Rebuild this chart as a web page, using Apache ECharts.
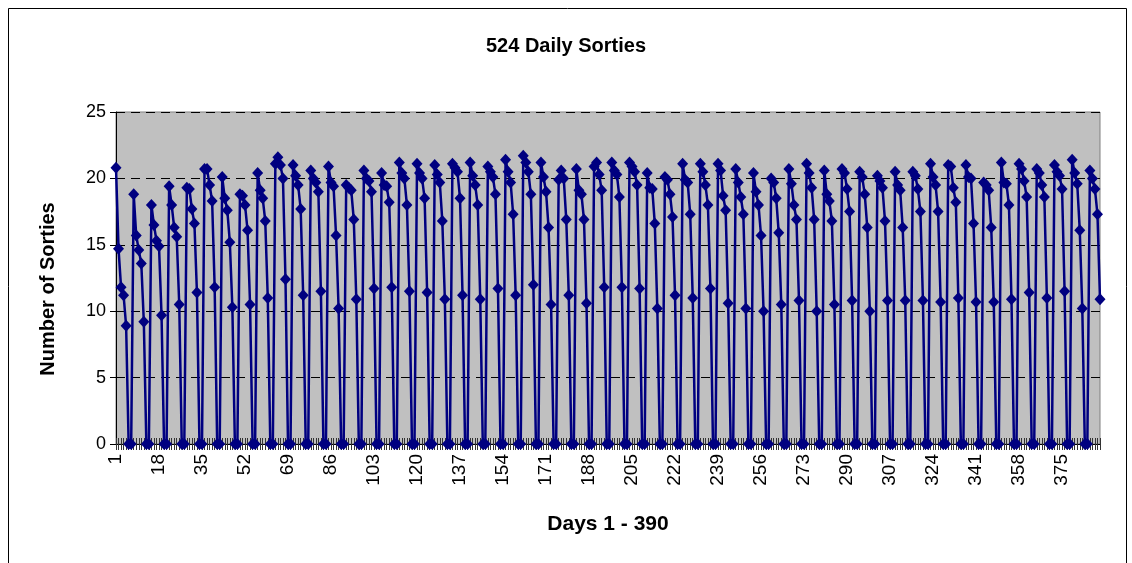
<!DOCTYPE html>
<html>
<head>
<meta charset="utf-8">
<script src="https://cdn.jsdelivr.net/npm/echarts@6/dist/echarts.min.js"></script>
<style>
html,body{margin:0;padding:0;background:#fff;}
#chart{width:1132px;height:563px;}
</style>
</head>
<body>
<div id="chart"></div>
<script>
var titleText = "524 Daily Sorties";
var xAxisTitle = "Days 1 - 390";
var yAxisTitle = "Number of Sorties";
var yTicks = [0, 5, 10, 15, 20, 25];

// Number of sorties per day, days 1 - 390 (7 days per row)
var sorties = [
20.8,14.7,11.8,11.2,8.9,0,0,
18.8,15.7,14.6,13.6,9.2,0,0,
18.0,16.5,15.3,14.9,9.7,0,0,
19.4,18.0,16.3,15.6,10.5,0,0,
19.3,19.2,17.7,16.6,11.4,0,0,
20.7,20.7,19.5,18.3,11.8,0,0,
20.1,18.5,17.6,15.2,10.3,0,0,
18.8,18.7,18.0,16.1,10.5,0,0,
20.4,19.1,18.5,16.8,11.0,0,0,
21.1,21.6,21.0,20.0,12.4,0,0,
21.0,20.2,19.5,17.7,11.2,0,0,
20.6,20.0,19.7,19.0,11.5,0,0,
20.9,19.7,19.4,15.7,10.2,0,0,
19.5,19.3,19.1,16.9,10.9,0,0,
20.6,20.0,19.8,19.0,11.7,0,0,
20.4,19.5,19.4,18.2,11.8,0,0,
21.2,20.4,20.0,18.0,11.5,0,0,
21.1,20.4,20.0,18.5,11.4,0,0,
21.0,20.3,19.7,16.8,10.9,0,0,
21.1,20.8,20.5,18.5,11.2,0,0,
21.2,20.2,19.5,18.0,10.9,0,0,
20.9,20.5,20.1,18.8,11.7,0,0,
21.4,20.5,19.7,17.3,11.2,0,0,
21.7,21.2,20.5,18.8,12.0,0,0,
21.2,20.1,19.0,16.3,10.5,0,0,
19.9,20.6,20.0,16.9,11.2,0,0,
20.7,19.1,18.8,16.9,10.6,0,0,
20.9,21.2,20.3,19.1,11.8,0,0,
21.2,20.6,20.3,18.6,11.8,0,0,
21.2,20.9,20.5,19.5,11.7,0,0,
20.4,19.3,19.2,16.6,10.2,0,0,
20.1,19.9,18.8,17.1,11.2,0,0,
21.1,19.9,19.7,17.3,11.0,0,0,
21.1,20.5,19.5,18.0,11.7,0,0,
21.1,20.6,18.7,17.6,10.6,0,0,
20.7,19.7,18.6,17.3,10.2,0,0,
20.4,19.0,18.0,15.7,10.0,0,0,
20.0,19.7,18.5,15.9,10.5,0,0,
20.7,19.6,18.0,16.9,10.8,0,0,
21.1,20.4,19.3,16.9,10.0,0,0,
20.6,18.8,18.3,16.8,10.5,0,0,
20.7,20.4,19.2,17.5,10.8,0,0,
20.5,20.1,18.8,16.3,10.0,0,0,
20.2,19.8,19.3,16.8,10.8,0,0,
20.5,19.5,19.1,16.3,10.8,0,0,
20.5,20.2,19.2,17.5,10.8,0,0,
21.1,20.1,19.5,17.5,10.7,0,0,
21.0,20.9,19.3,18.2,11.0,0,0,
21.0,20.1,20.0,16.6,10.7,0,0,
19.7,19.5,19.1,16.3,10.7,0,0,
21.2,19.7,19.6,18.0,10.9,0,0,
21.1,20.7,19.8,18.6,11.4,0,0,
20.7,20.4,19.5,18.6,11.0,0,0,
21.0,20.5,20.2,19.2,11.5,0,0,
21.4,20.4,19.6,16.1,10.2,0,0,
20.6,20.0,19.2,17.3,10.9
];

var days = [];
for (var i = 1; i <= sorties.length; i++) days.push(String(i));

var font = "'Liberation Sans', Arial, sans-serif";
var chart = echarts.init(document.getElementById('chart'), null, {renderer: 'canvas'});
chart.setOption({
  animation: false,
  backgroundColor: '#ffffff',
  title: {
    text: titleText,
    left: 'center',
    top: 31,
    textStyle: {fontFamily: font, fontSize: 20, fontWeight: 'bold', color: '#000'}
  },
  graphic: [{
    type: 'rect',
    shape: {x: 8.5, y: 8.5, width: 1118, height: 600},
    style: {fill: 'none', stroke: '#000', lineWidth: 1},
    silent: true
  }],
  grid: {
    left: 116, right: 32, top: 112, bottom: 119,
    show: true, backgroundColor: '#C0C0C0', borderColor: '#808080', borderWidth: 1
  },
  xAxis: [{
    type: 'category',
    data: days,
    boundaryGap: false,
    name: xAxisTitle,
    nameLocation: 'middle',
    nameGap: 70,
    nameTextStyle: {fontFamily: font, fontSize: 21, fontWeight: 'bold', color: '#000'},
    axisLine: {show: true, lineStyle: {color: '#000', width: 1}},
    axisTick: {show: true, interval: 0, length: 6, lineStyle: {color: '#333', width: 1}},
    axisLabel: {interval: 16, rotate: 90, margin: 10, fontFamily: font, fontSize: 19, color: '#000'},
    splitLine: {show: false}
  }, {
    type: 'category',
    data: days,
    boundaryGap: false,
    position: 'bottom',
    axisLine: {show: false},
    axisTick: {show: true, inside: true, interval: 0, length: 6, lineStyle: {color: '#333', width: 1}},
    axisLabel: {show: false},
    splitLine: {show: false}
  }],
  yAxis: {
    type: 'value',
    min: yTicks[0],
    max: yTicks[yTicks.length - 1],
    interval: 5,
    name: yAxisTitle,
    nameLocation: 'middle',
    nameRotate: 90,
    nameGap: 58,
    nameTextStyle: {fontFamily: font, fontSize: 20, fontWeight: 'bold', color: '#000', padding: [0, 22, 0, 0]},
    axisLine: {show: true, lineStyle: {color: '#000', width: 1}},
    axisTick: {show: true, length: 6, lineStyle: {color: '#000'}},
    axisLabel: {margin: 10, fontFamily: font, fontSize: 18, color: '#000'},
    splitLine: {show: true, lineStyle: {color: '#000', type: [9, 6], width: 1}}
  },
  series: [{
    type: 'line',
    data: sorties,
    xAxisIndex: 0,
    symbol: 'diamond',
    symbolSize: [11, 12],
    showAllSymbol: true,
    itemStyle: {color: '#000080'},
    lineStyle: {color: '#000080', width: 2.5},
    z: 5
  }]
});
</script>
</body>
</html>
